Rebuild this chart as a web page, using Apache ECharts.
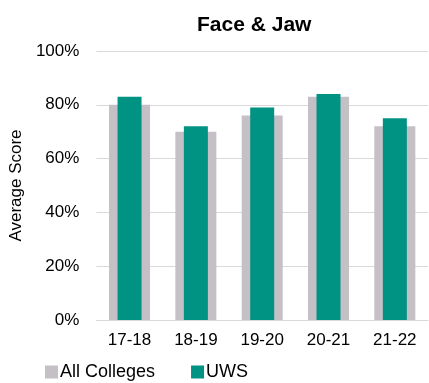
<!DOCTYPE html>
<html><head><meta charset="utf-8">
<script src="https://cdn.jsdelivr.net/npm/echarts@6/dist/echarts.min.js"></script>
<style>html,body{margin:0;padding:0;background:#fff}#c{width:429px;height:383px}</style>
</head><body><div id="c"></div>
<script>
const categories = ['17-18','18-19','19-20','20-21','21-22'];
const allColleges = [80,70,76,83,72];
const uws = [83,72,79,84,75];
const yTicks = [0,20,40,60,80,100];

const chart = echarts.init(document.getElementById('c'));
const font = 'Liberation Sans, Arial, sans-serif';
chart.setOption({
  animation: false,
  title: {text: 'Face & Jaw', left: 192, top: 10,
    textStyle: {fontFamily: font, fontSize: 21, fontWeight: 'bold', color: '#000'}},
  legend: {top: 358, left: 40, itemWidth: 13, itemHeight: 13, itemGap: 36,
    icon: 'rect', textStyle: {fontFamily: font, fontSize: 18, color: '#000', padding: [0,0,0,-3]},
    data: ['All Colleges','UWS']},
  grid: {left: 90, right: 1, top: 51, bottom: 63},
  xAxis: [
    {type: 'category', data: categories,
      axisLine: {lineStyle: {color: '#d9d9d9', width: 1}}, axisTick: {show: false},
      axisLabel: {fontFamily: font, fontSize: 17, color: '#000', margin: 12}},
    {type: 'category', data: categories, show: false}
  ],
  yAxis: {type: 'value', min: 0, max: 100, interval: 20,
    name: 'Average Score', nameLocation: 'middle', nameGap: 62,
    nameTextStyle: {fontFamily: font, fontSize: 17, color: '#000'},
    axisLabel: {fontFamily: font, fontSize: 17, color: '#000', margin: 17,
      formatter: v => yTicks.includes(v) ? v + '%' : ''},
    splitLine: {lineStyle: {color: '#d9d9d9', width: 1}}},
  series: [
    {name: 'All Colleges', type: 'bar', xAxisIndex: 0, data: allColleges, barWidth: 41,
      itemStyle: {color: '#c5bfc6'}, z: 1},
    {name: 'UWS', type: 'bar', xAxisIndex: 1, data: uws, barWidth: 24,
      itemStyle: {color: '#009383'}, z: 2}
  ]
});
</script></body></html>
